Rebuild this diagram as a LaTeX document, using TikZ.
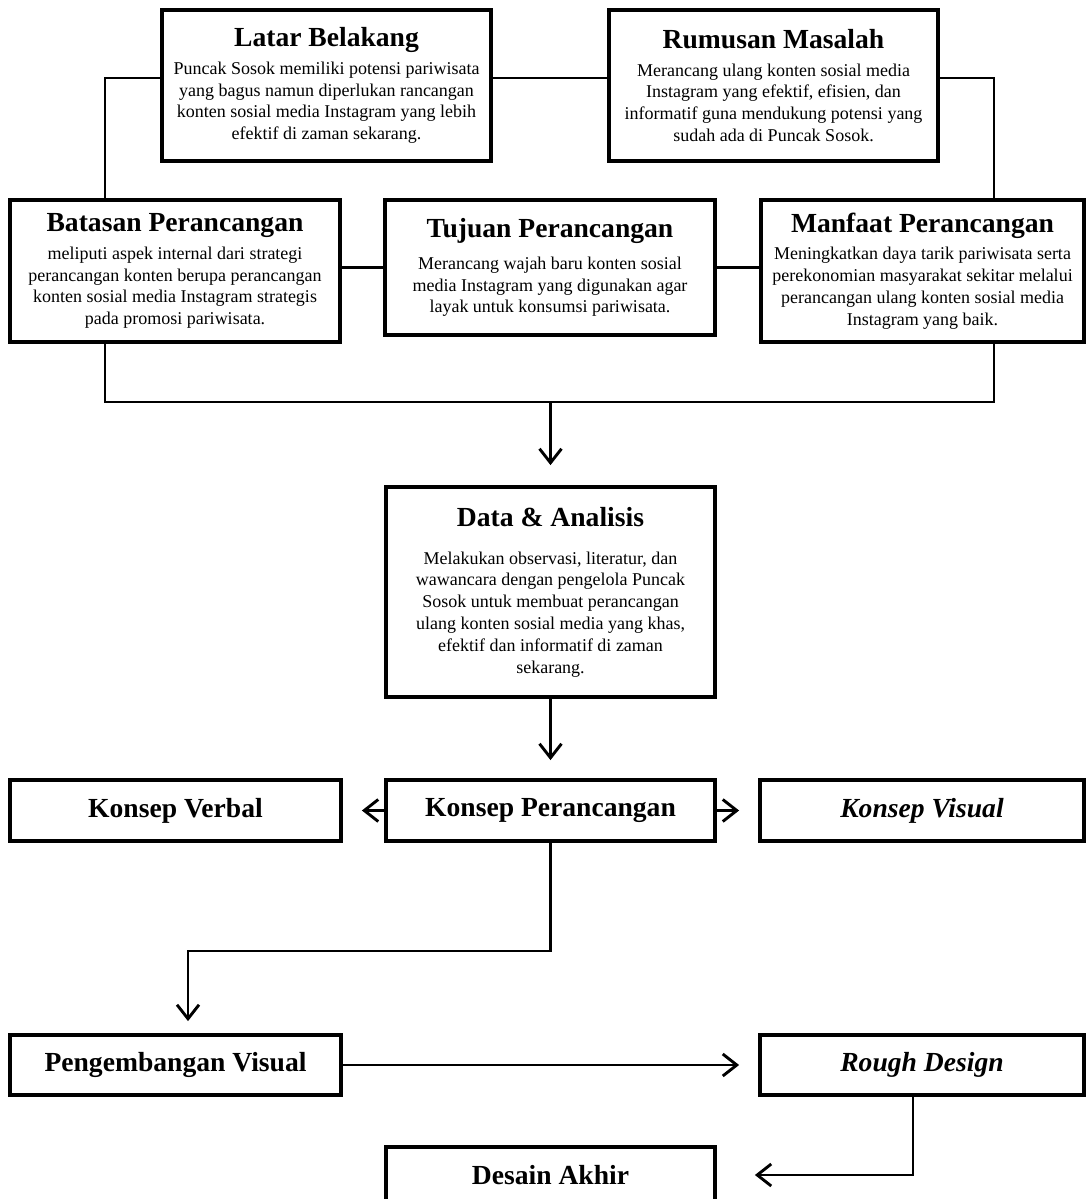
\documentclass[tikz,border=0pt]{standalone}
\usepackage{fontspec}
\setmainfont{Liberation Serif}
\usetikzlibrary{arrows.meta}

\newcommand{\boxtitle}[1]{{\fontsize{13.8}{16}\selectfont\bfseries #1}}

\begin{document}
\begin{tikzpicture}[x=0.5pt, y=-0.5pt,
  box/.style={draw, line width=1.9pt, inner sep=0pt, align=center, font=\fontsize{9}{10.9}\selectfont},
  wide/.style={minimum width=164.5pt},
  link/.style={line width=1.45pt},
  flow/.style={line width=1.45pt, -{Straight Barb[length=7pt, width=11pt]}}
]
\useasboundingbox (0,0) rectangle (1086,1199);
% top row
\node[box, wide, minimum height=75.5pt] (latar) at (326.5,85.5) {\boxtitle{Latar Belakang}\\[3pt]
  Puncak Sosok memiliki potensi pariwisata\\
  yang bagus namun diperlukan rancangan\\
  konten sosial media Instagram yang lebih\\
  efektif di zaman sekarang.};
\node[box, wide, minimum height=75.5pt] (rumusan) at (773.5,85.5) {\boxtitle{Rumusan Masalah}\\[3pt]
  Merancang ulang konten sosial media\\
  Instagram yang efektif, efisien, dan\\
  informatif guna mendukung potensi yang\\
  sudah ada di Puncak Sosok.};
% second row
\node[box, minimum width=165pt, minimum height=71pt] (batasan) at (175,271) {\boxtitle{Batasan Perancangan}\\[3pt]
  meliputi aspek internal dari strategi\\
  perancangan konten berupa perancangan\\
  konten sosial media Instagram strategis\\
  pada promosi pariwisata.};
\node[box, minimum width=165pt, minimum height=67.5pt] (tujuan) at (550,267.5) {\boxtitle{Tujuan Perancangan}\\[5pt]
  Merancang wajah baru konten sosial\\
  media Instagram yang digunakan agar\\
  layak untuk konsumsi pariwisata.};
\node[box, minimum width=161.5pt, minimum height=71pt] (manfaat) at (922.5,271) {\boxtitle{Manfaat Perancangan}\\[3pt]
  Meningkatkan daya tarik pariwisata serta\\
  perekonomian masyarakat sekitar melalui\\
  perancangan ulang konten sosial media\\
  Instagram yang baik.};
% data box
\node[box, wide, minimum height=105pt] (data) at (550.5,592) {\boxtitle{Data \& Analisis}\\[8pt]
  Melakukan observasi, literatur, dan\\
  wawancara dengan pengelola Puncak\\
  Sosok untuk membuat perancangan\\
  ulang konten sosial media yang khas,\\
  efektif dan informatif di zaman\\
  sekarang.};
% concept row
\node[box, minimum width=165.5pt, minimum height=30.5pt] (verbal) at (175.5,810.5) {\boxtitle{Konsep Verbal}};
\node[box, wide, minimum height=30.5pt] (konsep) at (550.5,810.5) {\boxtitle{Konsep Perancangan}};
\node[box, minimum width=162pt, minimum height=30.5pt] (visual) at (922,810.5) {\boxtitle{\itshape Konsep Visual}};
% development row
\node[box, minimum width=165.5pt, minimum height=30pt] (pengembangan) at (175.5,1065) {\boxtitle{Pengembangan Visual}};
\node[box, minimum width=162pt, minimum height=30pt] (rough) at (922,1065) {\boxtitle{\itshape Rough Design}};
\node[box, wide, minimum height=28pt] (akhir) at (550.5,1175) {\boxtitle{Desain Akhir}};

% junctions
\coordinate (jl) at (105,78);
\coordinate (jr) at (994,78);
\coordinate (jb) at (105,402);
\coordinate (jk) at (188,951);
\coordinate (jd) at (913,1175);

% connectors
\draw[link] ([yshift=3.75pt]latar.east) -- ([yshift=3.75pt]rumusan.west);
\draw[link] (latar.west |- jl) -- (jl) -- (jl |- batasan.north);
\draw[link] (rumusan.east |- jr) -- (jr) -- (jr |- manfaat.north);
\draw[link] (batasan.east |- tujuan.west) -- (tujuan.west);
\draw[link] (tujuan.east) -- (tujuan.east -| manfaat.west);
\draw[link] (jl |- batasan.south) -- (jb) -- (jb -| jr) -- (jr |- manfaat.south);
% arrows
\draw[flow, shorten >=10pt] (jb -| data.north) -- (data.north);
\draw[flow, shorten >=9pt] (data.south) -- (konsep.north);
\draw[flow, shorten >=9.5pt] (konsep.west) -- (verbal.east);
\draw[flow, shorten >=9.5pt] (konsep.east) -- (visual.west);
\draw[flow, shorten >=6pt] (konsep.south) |- (jk) -- (jk |- pengembangan.north);
\draw[flow, shorten >=9.5pt] (pengembangan.east) -- (rough.west);
\draw[flow, shorten >=19pt] (jd |- rough.south) -- (jd) -- (jd -| akhir.east);
\end{tikzpicture}
\end{document}
